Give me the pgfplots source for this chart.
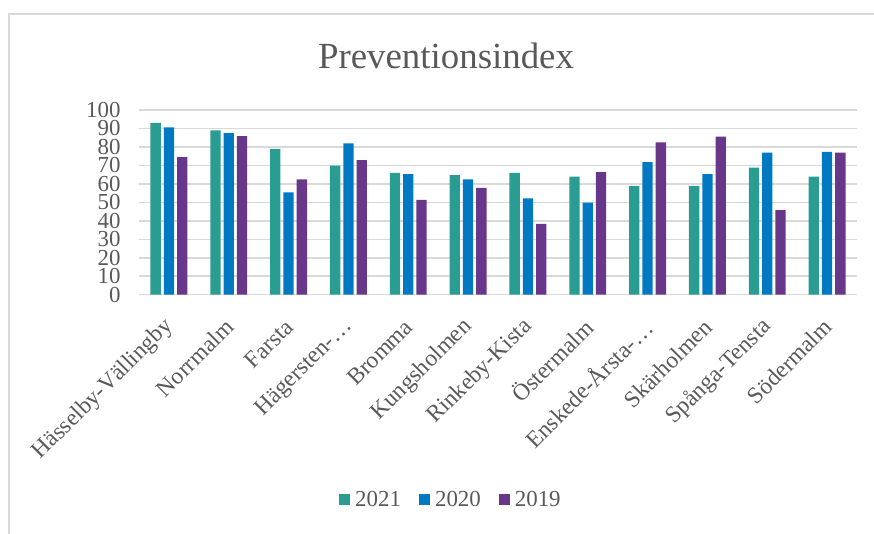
\documentclass[border=0pt]{standalone}
\usepackage{fontspec}
\setmainfont{Liberation Serif}
\usepackage{pgfplots}
\pgfplotsset{compat=1.18}
\definecolor{cA}{HTML}{2A9D92}
\definecolor{cB}{HTML}{0079C2}
\definecolor{cC}{HTML}{68378A}
\definecolor{txt}{HTML}{595959}
\definecolor{grd}{HTML}{D9D9D9}
\begin{document}
\begin{tikzpicture}
\path[use as bounding box] (0,0) rectangle (874bp,-534bp);
\draw[grd, line width=2bp] (9bp,-534bp) -- (9bp,-14bp) -- (874bp,-14bp);
\node[text=txt, font=\fontsize{37}{40}\selectfont] at (446bp,-56bp) {Preventionsindex};
\begin{axis}[
  at={(139bp,-294.7bp)}, anchor=south west,
  scale only axis, width=718bp, height=184.7bp,
  xmin=-0.5, xmax=11.5, ymin=0, ymax=100,
  ytick={0,10,...,100},
  xtick={0,...,11},
  xticklabels={Hässelby-Vällingby,Norrmalm,Farsta,Hägersten-…,Bromma,Kungsholmen,Rinkeby-Kista,Östermalm,Enskede-Årsta-…,Skärholmen,Spånga-Tensta,Södermalm},
  ymajorgrids, major grid style={grd, line width=1.5bp},
  axis line style={draw=none},
  tick style={draw=none},
  /pgf/number format/assume math mode=true,
  ticklabel style={text=txt},
  yticklabel style={xshift=-15bp, font=\fontsize{23}{23}\selectfont},
  xticklabel style={xshift=3bp, yshift=-22bp, rotate=45, anchor=east, font=\fontsize{23.5}{23.5}\selectfont},
  ybar, bar width=10.3bp,
  legend columns=3,
  legend style={draw=none, at={(0.4345,-1.111)}, anchor=center, text=txt, font=\fontsize{23}{23}\selectfont,
    /tikz/every odd column/.append style={column sep=3bp},
    /tikz/every even column/.append style={column sep=16bp}},
  legend image code/.code={\fill[#1] (0bp,-5.5bp) rectangle (11bp,5.5bp);},
]
\addplot[fill=cA, draw=none, bar shift=-13.3bp] coordinates {(0,93.0) (1,89.0) (2,78.9) (3,69.9) (4,65.9) (5,64.8) (6,65.9) (7,63.9) (8,58.8) (9,58.8) (10,68.8) (11,63.9)};
\addplot[fill=cB, draw=none, bar shift=0bp] coordinates {(0,90.6) (1,87.5) (2,55.4) (3,81.9) (4,65.3) (5,62.5) (6,52.2) (7,49.8) (8,71.8) (9,65.3) (10,76.9) (11,77.3)};
\addplot[fill=cC, draw=none, bar shift=13.3bp] coordinates {(0,74.5) (1,85.9) (2,62.5) (3,72.9) (4,51.4) (5,57.8) (6,38.3) (7,66.4) (8,82.5) (9,85.6) (10,45.8) (11,76.9)};
\legend{2021,2020,2019}
\end{axis}
\end{tikzpicture}
\end{document}
